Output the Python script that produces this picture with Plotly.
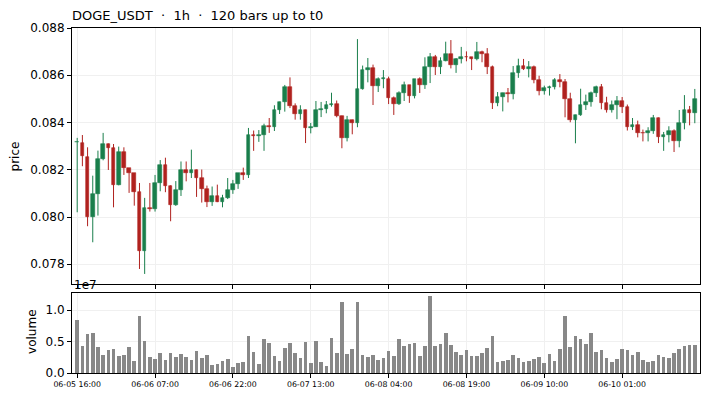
import numpy as np
import plotly.graph_objects as go

# OHLC per hourly bar, in units of 1e-3 USDT
OPEN = [83.16, 83.15, 82.56, 79.99, 80.99, 82.47, 83.11, 82.94, 81.34, 82.77,
        82.06, 81.85, 81.05, 78.55, 80.37, 80.35, 81.46, 82.22, 81.30, 80.50,
        81.16, 82.01, 81.85, 82.01, 81.64, 81.17, 80.63, 80.90, 80.65, 80.80,
        81.16, 81.39, 81.86, 81.77, 83.49, 83.42, 83.48, 83.87, 83.80, 84.54,
        84.88, 85.52, 84.71, 84.35, 84.54, 83.75, 83.82, 84.54, 84.58, 84.76,
        84.78, 84.29, 83.33, 84.12, 83.97, 85.43, 86.24, 86.31, 85.56, 85.86,
        85.86, 85.02, 84.77, 85.26, 85.59, 85.11, 85.84, 85.60, 86.36, 86.79,
        86.34, 86.62, 86.91, 86.42, 86.70, 86.79, 86.76, 86.67, 87.00, 86.91,
        86.34, 84.81, 85.09, 85.26, 85.22, 86.11, 86.41, 86.28, 86.35, 85.81,
        85.35, 85.45, 85.49, 85.81, 85.70, 84.98, 84.09, 84.33, 84.76, 84.85,
        85.26, 85.52, 84.81, 84.53, 84.76, 84.93, 84.64, 83.80, 83.91, 83.57,
        83.54, 83.63, 84.21, 83.37, 83.48, 83.66, 83.23, 83.99, 84.54, 84.39]
HIGH = [83.35, 83.47, 82.95, 81.75, 82.81, 83.56, 83.11, 83.09, 82.98, 82.95,
        82.06, 81.85, 81.44, 80.81, 81.44, 81.78, 82.41, 82.51, 81.34, 81.52,
        82.35, 82.35, 82.85, 82.01, 82.01, 81.33, 81.29, 81.37, 80.94, 81.65,
        81.57, 81.86, 82.09, 83.77, 83.66, 83.68, 83.95, 84.19, 84.73, 84.88,
        85.59, 85.91, 84.81, 84.73, 84.54, 83.98, 84.91, 84.87, 84.91, 85.26,
        84.93, 84.29, 84.28, 84.12, 87.53, 86.41, 86.73, 86.45, 85.91, 86.22,
        85.94, 85.10, 85.32, 85.73, 85.59, 85.84, 85.91, 86.76, 86.94, 86.86,
        86.76, 87.42, 87.49, 86.73, 87.20, 87.01, 86.76, 87.41, 87.04, 87.15,
        86.41, 85.29, 85.26, 85.46, 86.39, 86.70, 86.69, 86.60, 86.41, 85.98,
        85.56, 85.56, 85.88, 86.05, 85.84, 85.26, 84.33, 85.43, 85.18, 85.31,
        85.56, 85.63, 85.09, 84.93, 85.12, 85.08, 84.76, 84.19, 84.08, 83.70,
        83.80, 84.32, 84.21, 83.60, 83.84, 83.71, 84.53, 85.16, 84.70, 85.42]
LOW = [80.20, 82.15, 79.61, 78.93, 80.06, 82.40, 81.99, 80.41, 81.34, 81.78,
       81.02, 80.48, 77.80, 77.59, 80.23, 80.23, 81.09, 81.05, 79.82, 80.47,
       80.89, 81.51, 81.65, 80.85, 80.61, 80.42, 80.47, 80.63, 80.41, 80.76,
       80.98, 81.19, 81.57, 81.65, 82.80, 83.18, 82.80, 83.56, 83.64, 84.36,
       84.46, 84.61, 84.12, 84.12, 83.13, 83.54, 83.82, 84.23, 84.39, 84.67,
       84.22, 82.91, 83.20, 83.50, 83.80, 85.39, 85.70, 84.74, 85.29, 85.45,
       84.78, 84.32, 84.74, 84.91, 84.83, 85.02, 85.25, 85.42, 85.67, 86.01,
       86.05, 86.59, 86.29, 86.10, 86.50, 86.59, 86.22, 86.63, 86.55, 86.05,
       84.57, 84.69, 84.47, 84.85, 84.98, 85.89, 86.22, 85.91, 85.66, 85.15,
       85.18, 85.14, 85.40, 85.49, 84.22, 84.01, 83.12, 84.28, 84.53, 84.67,
       85.08, 84.56, 84.42, 84.42, 84.14, 84.40, 83.66, 83.68, 83.37, 83.20,
       83.20, 83.52, 83.13, 82.80, 83.16, 82.75, 82.95, 83.71, 83.88, 83.97]
CLOSE = [83.17, 82.57, 79.99, 80.99, 82.47, 83.11, 82.94, 81.34, 82.77, 82.06,
         81.85, 81.05, 78.55, 80.37, 80.34, 81.46, 82.22, 81.30, 80.50, 81.16,
         82.01, 81.85, 82.01, 81.64, 81.17, 80.63, 80.90, 80.65, 80.80, 81.16,
         81.39, 81.86, 81.77, 83.49, 83.42, 83.48, 83.87, 83.80, 84.54, 84.88,
         85.52, 84.71, 84.35, 84.54, 83.75, 83.82, 84.54, 84.58, 84.76, 84.78,
         84.29, 83.33, 84.12, 83.97, 85.43, 86.24, 86.31, 85.56, 85.86, 85.88,
         85.02, 84.77, 85.26, 85.59, 85.11, 85.84, 85.60, 86.36, 86.79, 86.34,
         86.62, 86.91, 86.42, 86.70, 86.79, 86.76, 86.67, 87.00, 86.91, 86.34,
         84.81, 85.09, 85.26, 85.22, 86.11, 86.41, 86.28, 86.35, 85.81, 85.35,
         85.45, 85.49, 85.81, 85.70, 84.98, 84.09, 84.33, 84.76, 84.85, 85.26,
         85.52, 84.81, 84.53, 84.76, 84.93, 84.64, 83.80, 83.91, 83.57, 83.54,
         83.63, 84.21, 83.37, 83.48, 83.66, 83.23, 83.99, 84.54, 84.39, 85.01]

# volume per bar, millions
VOLUME_M = [8.46, 4.31, 6.22, 6.38, 4.15, 2.87, 3.67, 3.83, 2.71, 2.87,
            4.15, 1.91, 9.10, 5.11, 2.55, 2.23, 3.19, 2.07, 3.19, 2.55,
            3.03, 2.55, 2.07, 3.51, 2.39, 2.87, 1.28, 1.44, 1.91, 2.23,
            0.96, 1.60, 1.76, 5.90, 3.35, 1.44, 5.43, 4.79, 2.71, 1.91,
            3.99, 4.79, 3.19, 2.39, 4.95, 1.60, 5.11, 1.76, 1.12, 5.59,
            3.19, 11.33, 3.03, 3.83, 11.33, 2.87, 2.55, 2.87, 2.07, 2.39,
            3.51, 2.71, 5.43, 4.31, 4.63, 4.79, 2.71, 4.31, 12.29, 4.31,
            4.63, 6.38, 4.47, 3.35, 2.87, 3.67, 2.71, 2.71, 3.19, 3.99,
            5.90, 1.76, 1.91, 2.07, 2.87, 2.39, 1.76, 1.91, 2.23, 2.55,
            1.60, 3.03, 1.91, 3.83, 9.10, 4.15, 5.90, 5.43, 4.63, 6.38,
            3.35, 3.67, 2.39, 1.76, 2.23, 3.83, 3.67, 2.87, 3.35, 2.07,
            1.76, 1.91, 2.87, 2.55, 2.39, 3.19, 3.83, 4.31, 4.47, 4.47]

TICK_POS = [0, 15, 30, 45, 60, 75, 90, 105]
TICK_LABELS = ["06-05 16:00", "06-06 07:00", "06-06 22:00", "06-07 13:00",
               "06-08 04:00", "06-08 19:00", "06-09 10:00", "06-10 01:00"]

UP = "#1a7f4c"
DOWN = "#b0221f"
FONT = "DejaVu Sans"

o = np.array(OPEN) / 1000
h = np.array(HIGH) / 1000
l = np.array(LOW) / 1000
c = np.array(CLOSE) / 1000
vol = np.array(VOLUME_M) * 1e6
idx = np.arange(len(o))
up = c >= o

fig = go.Figure()

# wicks + bodies for each direction
for mask, col in [(up, UP), (~up, DOWN)]:
    wx, wy = [], []
    for i in idx[mask]:
        wx += [i, i, None]
        wy += [l[i], h[i], None]
    fig.add_trace(go.Scatter(x=wx, y=wy, mode="lines", line=dict(color=col, width=1),
                             showlegend=False, hoverinfo="skip"))
    fig.add_trace(go.Bar(x=idx[mask], y=np.abs(c - o)[mask], base=np.minimum(o, c)[mask],
                         width=0.7, marker=dict(color=col, line=dict(color=col, width=0.6)),
                         showlegend=False))

fig.add_trace(go.Bar(x=idx, y=vol, width=0.7, marker=dict(color="#888888", line=dict(width=0)),
                     xaxis="x2", yaxis="y2", showlegend=False))

axis_common = dict(showline=True, mirror=True, linecolor="black", linewidth=1,
                   ticks="outside", ticklen=4, tickwidth=1, tickcolor="black",
                   showgrid=True, gridcolor="#f0f0f0", gridwidth=1, zeroline=False,
                   automargin=False)

fig.update_layout(
    width=708, height=400,
    margin=dict(l=72, r=8, t=28, b=27),
    plot_bgcolor="white", paper_bgcolor="white",
    font=dict(family=FONT, color="black", size=12),
    barmode="overlay", bargap=0,
    title=dict(text="DOGE_USDT  ·  1h  ·  120 bars up to t0", font=dict(size=13, family=FONT),
               xref="paper", x=0, xanchor="left", yref="container", y=1 - 15 / 400,
               yanchor="middle", automargin=False),
    xaxis=dict(domain=[0, 1], range=[-1, 120], anchor="y", tickvals=TICK_POS,
               showticklabels=False, **axis_common),
    yaxis=dict(domain=[0.257, 1], range=[0.07715, 0.0880], anchor="x",
               tickvals=[0.078, 0.080, 0.082, 0.084, 0.086, 0.088], tickformat=".3f",
               tickfont=dict(size=12), **axis_common),
    xaxis2=dict(domain=[0, 1], range=[-1, 120], anchor="y2", tickvals=TICK_POS,
                ticktext=TICK_LABELS, tickfont=dict(size=7.8), **axis_common),
    yaxis2=dict(domain=[0, 0.231], range=[0, 1.27e7], anchor="x2",
                tickvals=[0, 5e6, 1e7], ticktext=["0.0", "0.5", "1.0"],
                tickfont=dict(size=12), **axis_common),
    annotations=[
        dict(text="price", xref="paper", yref="paper", x=-0.09, y=0.629, textangle=-90,
             xanchor="center", yanchor="middle", showarrow=False, font=dict(size=12)),
        dict(text="volume", xref="paper", yref="paper", x=-0.0648, y=0.12, textangle=-90,
             xanchor="center", yanchor="middle", showarrow=False, font=dict(size=12)),
        dict(text="1e7", xref="paper", yref="paper", x=0, y=0.255, xanchor="left",
             yanchor="middle", showarrow=False, font=dict(size=12)),
    ],
)

# the page body has a default 8px margin; drop it so the figure sits at (0, 0)
fix_page = ("document.body.style.margin='0';"
            "Plotly.relayout(document.getElementById('{plot_id}'), {width: 708, height: 400});")
fig.write_html("out.html", post_script=fix_page, config={"displayModeBar": False})
